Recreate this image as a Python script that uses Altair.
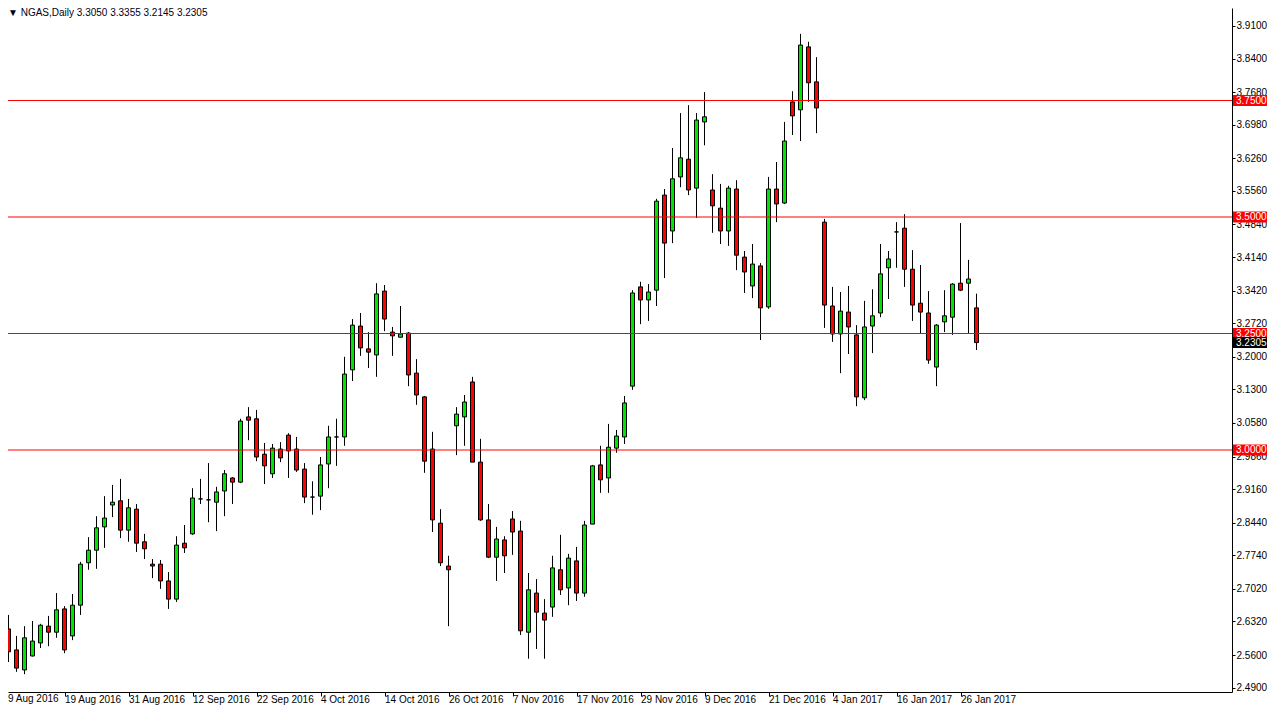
import altair as alt
import numpy as np
import pandas as pd

# ---------------- data (NGAS daily) ----------------
opens = [2.734, 2.616, 2.571, 2.528, 2.558, 2.586, 2.622, 2.609, 2.659, 2.601,
         2.667, 2.758, 2.785, 2.835, 2.882, 2.891, 2.828, 2.873, 2.803, 2.755,
         2.755, 2.719, 2.680, 2.800, 2.820, 2.895, 2.893, 2.888, 2.912, 2.940,
         2.931, 3.071, 3.067, 2.991, 2.949, 3.002, 3.032, 3.002, 2.959, 2.899,
         2.901, 2.970, 3.028, 3.028, 3.172, 3.266, 3.217, 3.204, 3.341, 3.253,
         3.242, 3.251, 3.165, 3.114, 3.002, 2.843, 2.751, 3.052, 3.071, 3.146,
         2.974, 2.850, 2.770, 2.807, 2.852, 2.826, 2.609, 2.693, 2.650, 2.663,
         2.743, 2.704, 2.762, 2.693, 2.841, 2.968, 2.940, 3.004, 3.028, 3.137,
         3.350, 3.322, 3.343, 3.547, 3.470, 3.586, 3.624, 3.562, 3.704, 3.558,
         3.519, 3.470, 3.560, 3.414, 3.352, 3.395, 3.307, 3.560, 3.530, 3.747,
         3.730, 3.865, 3.790, 3.489, 3.309, 3.249, 3.296, 3.247, 3.112, 3.266,
         3.294, 3.391, 3.468, 3.476, 3.388, 3.315, 3.294, 3.178, 3.275, 3.285,
         3.358, 3.358, 3.3050]

highs = [2.740, 2.646, 2.601, 2.622, 2.633, 2.627, 2.644, 2.693, 2.665, 2.691,
         2.760, 2.813, 2.858, 2.901, 2.925, 2.938, 2.895, 2.884, 2.820, 2.766,
         2.764, 2.738, 2.815, 2.839, 2.918, 2.938, 2.972, 2.921, 2.957, 2.942,
         3.067, 3.092, 3.086, 3.015, 3.013, 3.017, 3.036, 3.028, 2.972, 2.933,
         2.985, 3.052, 3.067, 3.200, 3.281, 3.294, 3.253, 3.358, 3.354, 3.264,
         3.309, 3.253, 3.195, 3.116, 3.039, 2.873, 2.773, 3.092, 3.118, 3.157,
         3.024, 2.884, 2.835, 2.815, 2.869, 2.848, 2.736, 2.723, 2.680, 2.773,
         2.818, 2.777, 2.792, 2.848, 2.968, 3.009, 3.056, 3.043, 3.116, 3.343,
         3.361, 3.356, 3.539, 3.560, 3.648, 3.723, 3.740, 3.723, 3.768, 3.592,
         3.571, 3.567, 3.579, 3.427, 3.442, 3.401, 3.586, 3.618, 3.704, 3.770,
         3.893, 3.876, 3.843, 3.496, 3.350, 3.339, 3.352, 3.268, 3.320, 3.345,
         3.442, 3.427, 3.489, 3.506, 3.429, 3.397, 3.341, 3.270, 3.343, 3.358,
         3.487, 3.408, 3.3355]

lows = [2.603, 2.545, 2.524, 2.519, 2.557, 2.575, 2.579, 2.597, 2.564, 2.592,
        2.646, 2.743, 2.745, 2.790, 2.856, 2.811, 2.803, 2.781, 2.766, 2.725,
        2.702, 2.659, 2.674, 2.779, 2.818, 2.884, 2.845, 2.826, 2.858, 2.884,
        2.929, 3.021, 2.976, 2.927, 2.940, 2.974, 2.940, 2.953, 2.886, 2.861,
        2.871, 2.918, 2.966, 3.009, 3.148, 3.202, 3.176, 3.157, 3.255, 3.202,
        3.242, 3.137, 3.097, 2.951, 2.824, 2.751, 2.622, 2.989, 3.009, 2.974,
        2.848, 2.768, 2.719, 2.736, 2.775, 2.603, 2.552, 2.573, 2.552, 2.642,
        2.689, 2.667, 2.676, 2.685, 2.841, 2.908, 2.908, 2.994, 3.013, 3.129,
        3.270, 3.277, 3.309, 3.369, 3.444, 3.564, 3.547, 3.498, 3.654, 3.466,
        3.442, 3.438, 3.386, 3.337, 3.326, 3.236, 3.303, 3.489, 3.528, 3.676,
        3.663, 3.747, 3.680, 3.262, 3.232, 3.165, 3.206, 3.094, 3.107, 3.208,
        3.285, 3.324, 3.391, 3.350, 3.277, 3.251, 3.185, 3.137, 3.253, 3.247,
        3.341, 3.249, 3.2145]

closes = [2.614, 2.567, 2.532, 2.597, 2.590, 2.624, 2.609, 2.657, 2.571, 2.667,
          2.755, 2.785, 2.833, 2.854, 2.888, 2.828, 2.876, 2.800, 2.788, 2.751,
          2.719, 2.680, 2.796, 2.790, 2.897, 2.895, 2.893, 2.910, 2.949, 2.931,
          3.062, 3.064, 2.985, 2.966, 3.004, 2.983, 2.998, 2.957, 2.899, 2.899,
          2.968, 3.028, 3.028, 3.163, 3.268, 3.219, 3.210, 3.335, 3.281, 3.245,
          3.249, 3.161, 3.118, 2.976, 2.850, 2.758, 2.743, 3.077, 3.103, 2.974,
          2.850, 2.770, 2.809, 2.773, 2.824, 2.612, 2.700, 2.652, 2.635, 2.747,
          2.700, 2.768, 2.693, 2.839, 2.966, 2.936, 3.006, 3.030, 3.101, 3.337,
          3.322, 3.339, 3.534, 3.444, 3.582, 3.627, 3.558, 3.708, 3.715, 3.524,
          3.470, 3.562, 3.418, 3.382, 3.399, 3.305, 3.560, 3.528, 3.663, 3.717,
          3.869, 3.788, 3.734, 3.311, 3.249, 3.298, 3.264, 3.114, 3.264, 3.288,
          3.378, 3.410, 3.468, 3.388, 3.311, 3.296, 3.193, 3.268, 3.288, 3.356,
          3.343, 3.367, 3.2305]

# date labels, one every 8 bars starting at bar 0
date_labels = ["9 Aug 2016", "19 Aug 2016", "31 Aug 2016", "12 Sep 2016",
               "22 Sep 2016", "4 Oct 2016", "14 Oct 2016", "26 Oct 2016",
               "7 Nov 2016", "17 Nov 2016", "29 Nov 2016", "9 Dec 2016",
               "21 Dec 2016", "4 Jan 2017", "16 Jan 2017", "26 Jan 2017"]
label_step = 8

# price-axis tick labels
price_ticks = [3.9100, 3.8400, 3.7680, 3.6980, 3.6260, 3.5560, 3.4840, 3.4140,
               3.3420, 3.2720, 3.2000, 3.1300, 3.0580, 2.9860, 2.9160, 2.8440,
               2.7740, 2.7020, 2.6320, 2.5600, 2.4900]

# horizontal support / resistance levels
levels = [3.75, 3.50, 3.25, 3.00]

symbol = "NGAS,Daily"

# ---------------- styling ----------------
FONT = "Liberation Sans"
GREEN = "#00E600"
RED = "#FF0000"
PLOT_W, PLOT_H = 1224, 684
PAD_R, PAD_B = 35, 18
BAR_PX = 8.0
x_lo = 0.9375

n = len(opens)
df = pd.DataFrame({"i": np.arange(n), "open": opens, "high": highs,
                   "low": lows, "close": closes})
df["dir"] = np.where(df["close"] >= df["open"], "up", "down")

x_scale = alt.Scale(domain=[x_lo, x_lo + PLOT_W / BAR_PX], nice=False, zero=False, padding=0)
y_scale = alt.Scale(domain=[2.48069, 3.9485], nice=False, zero=False, padding=0)

label_idx = [label_step * j for j in range(len(date_labels))]
x_expr = "[" + ",".join("'" + d + "'" for d in date_labels) + "][round(datum.value/" + str(label_step) + ")]"

x_axis = alt.Axis(values=label_idx[1:], labelExpr=x_expr, labelAlign="left",
                  labelBaseline="top", labelPadding=-2, labelOffset=0,
                  tickSize=4, tickColor="black", domainColor="black",
                  labelFont=FONT, labelFontSize=10, labelColor="black",
                  grid=False, labelOverlap=False, labelFlush=False, title=None)
y_axis = alt.Axis(orient="right", values=price_ticks, format=".4f",
                  tickSize=3, tickColor="black", domainColor="black",
                  labelFont=FONT, labelFontSize=10, labelColor="black",
                  labelPadding=1, grid=False, labelOverlap=False,
                  labelFlush=False, title=None)


def X(field):
    return alt.X(field, scale=x_scale, axis=x_axis, title=None)


def Y(field):
    return alt.Y(field, scale=y_scale, axis=y_axis, title=None)


base = alt.Chart(df)

wicks = base.mark_rule(color="black", strokeWidth=1, clip=True).encode(
    x=X("i:Q"), y=Y("low:Q"), y2="high:Q",
)

bodies = base.mark_bar(size=4, stroke="black", strokeWidth=1, clip=True).encode(
    x=X("i:Q"), y=Y("open:Q"), y2="close:Q",
    color=alt.Color("dir:N", scale=alt.Scale(domain=["up", "down"], range=[GREEN, RED]), legend=None),
)

lvl_df = pd.DataFrame({"level": levels})
hlines = alt.Chart(lvl_df).mark_rule(color=RED, strokeWidth=1).encode(
    y=Y("level:Q")
)

box_df = pd.DataFrame({
    "level": levels + [closes[-1]],
    "label": [f"{v:.4f}" for v in levels] + [f"{closes[-1]:.4f}"],
    "bg": [RED] * len(levels) + ["black"],
})
boxes = alt.Chart(box_df).mark_rect(yOffset=-5.5, y2Offset=5.5).encode(
    x=alt.value(PLOT_W + 1), x2=alt.value(PLOT_W + PAD_R),
    y=Y("level:Q"), y2="level:Q",
    color=alt.Color("bg:N", scale=None),
)
box_text = alt.Chart(box_df).mark_text(
    align="left", baseline="middle", font=FONT, fontSize=10, color="white"
).encode(
    x=alt.value(PLOT_W + 4),
    y=Y("level:Q"),
    text="label:N",
)

title_str = "\u25BC " + symbol + "  " + " ".join(
    f"{v:.4f}" for v in (opens[-1], highs[-1], lows[-1], closes[-1]))
title_layer = alt.Chart(pd.DataFrame({"t": [title_str]})).mark_text(
    align="left", baseline="top", font=FONT, fontSize=10, color="#000020"
).encode(x=alt.value(0), y=alt.value(0), text="t:N")

first_label = alt.Chart(pd.DataFrame({"t": [date_labels[0]]})).mark_text(
    align="left", baseline="top", font=FONT, fontSize=10, color="black"
).encode(x=alt.value(0), y=alt.value(PLOT_H + 2), text="t:N")

chart = alt.layer(
    wicks, bodies, hlines, boxes, box_text, title_layer, first_label
).properties(
    width=PLOT_W, height=PLOT_H,
    autosize=alt.AutoSizeParams(type="none"),
    padding={"left": 0, "top": 0, "right": PAD_R, "bottom": PAD_B},
    background="white",
).configure_view(stroke=None).configure_axis(labelOverlap=False)

chart.save("out.html", embed_options={"renderer": "svg", "actions": False})
